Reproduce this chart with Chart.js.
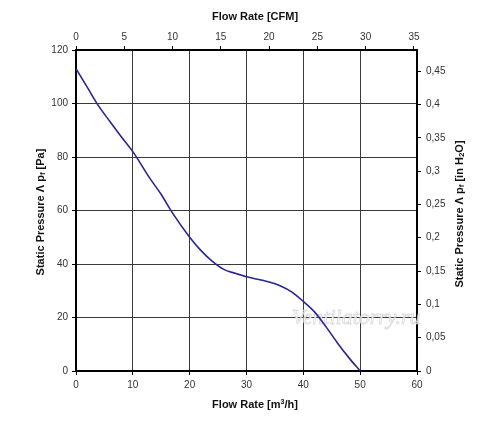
<!DOCTYPE html>
<html>
<head>
<script src="https://cdn.jsdelivr.net/npm/chart.js@4.4.0/dist/chart.umd.min.js"></script>
<style>
	html, body { margin: 0; padding: 0; background: #fff; }
	#wrapper { width: 500px; height: 437px; }
</style>
</head>
<body>
<div id="wrapper"><canvas id="fanChart" width="500" height="437"></canvas></div>
<script>
// curve: flow in m3/h, static pressure in Pa
var flowM3h    = [0, 2, 4, 6, 8, 10, 13, 15, 17, 20, 22, 24, 26, 28, 30, 33, 36, 38, 40, 42, 44, 46, 48, 50];
var pressurePa = [113, 106, 99, 93.2, 87.5, 82, 72, 66, 59, 50, 45, 41, 38, 36.5, 35.2, 33.8, 31.8, 29.5, 26, 22, 16.5, 10.5, 5, 0];

// tick labels
var flowTicks     = [0, 10, 20, 30, 40, 50, 60];
var cfmTicks      = [0, 5, 10, 15, 20, 25, 30, 35];
var paTicks       = [0, 20, 40, 60, 80, 100, 120];
var inH2OTicks    = [0, 0.05, 0.1, 0.15, 0.2, 0.25, 0.3, 0.35, 0.4, 0.45];

var M3H_PER_CFM = 1.699;
var PA_PER_INH2O = 249.089;

var FONT = '"Liberation Sans", Arial, sans-serif';

function fixedTicks(list){
	return function(scale){ scale.ticks = list.map(function(v){ return {value: v}; }); };
}

// draws a line of text made of pieces (for sub/superscripts), centred on cx,cy
function drawRich(ctx, parts, cx, cy, angle){
	ctx.save();
	ctx.translate(cx, cy);
	ctx.rotate(angle);
	ctx.fillStyle = '#111';
	ctx.textBaseline = 'middle';
	ctx.textAlign = 'left';
	var total = 0;
	parts.forEach(function(p){
		ctx.font = 'bold ' + (p.size || 11) + 'px ' + FONT;
		p.w = ctx.measureText(p.t).width;
		total += p.w;
	});
	var x = -total / 2;
	parts.forEach(function(p){
		ctx.font = 'bold ' + (p.size || 11) + 'px ' + FONT;
		ctx.fillText(p.t, x, p.dy || 0);
		x += p.w;
	});
	ctx.restore();
}

var titlesPlugin = {
	id: 'titles',
	beforeDatasetsDraw: function(chart){
		// faint watermark
		var ctx = chart.ctx;
		ctx.save();
		ctx.font = 'italic 22px "Liberation Serif", serif';
		ctx.textAlign = 'center';
		ctx.textBaseline = 'middle';
		ctx.lineWidth = 0.8;
		ctx.fillStyle = 'rgba(245,245,245,0.8)';
		ctx.strokeStyle = 'rgba(200,200,200,0.6)';
		ctx.fillText('Ventilatorry.ru', 356, 318);
		ctx.strokeText('Ventilatorry.ru', 356, 318);
		ctx.restore();
	},
	afterDraw: function(chart){
		var ctx = chart.ctx;
		drawRich(ctx, [{t: 'Flow Rate [CFM]'}], 255, 17, 0);
		drawRich(ctx, [{t: 'Flow Rate [m'}, {t: '3', size: 7, dy: -3}, {t: '/h]'}], 255, 405, 0);
		drawRich(ctx, [{t: 'Static Pressure \u039B p'}, {t: 'f', size: 8, dy: 2}, {t: ' [Pa]'}], 41, 212, -Math.PI / 2);
		drawRich(ctx, [{t: 'Static Pressure \u039B p'}, {t: 'f', size: 8, dy: 2}, {t: ' [in H'},
			{t: '2', size: 8, dy: 2}, {t: 'O]'}], 460, 214, -Math.PI / 2);
	}
};

var tickFont = {family: FONT, size: 10};
var gridStyle = {color: '#3a3a3a', lineWidth: 1, tickColor: '#000', tickLength: 4};
var borderStyle = {color: '#000', width: 2};

new Chart(document.getElementById('fanChart'), {
	type: 'line',
	data: {
		datasets: [{
			data: flowM3h.map(function(f, i){ return {x: f, y: pressurePa[i]}; }),
			borderColor: '#27278f',
			borderWidth: 1.6,
			pointRadius: 0,
			cubicInterpolationMode: 'monotone',
			fill: false,
			xAxisID: 'x',
			yAxisID: 'y'
		}]
	},
	options: {
		responsive: false,
		animation: false,
		layout: {padding: 0},
		plugins: {legend: {display: false}, tooltip: {enabled: false}},
		scales: {
			x: {
				type: 'linear', position: 'bottom', min: 0, max: 60,
				afterBuildTicks: fixedTicks(flowTicks),
				afterFit: function(s){ s.height = 66; },
				grid: gridStyle, border: borderStyle,
				ticks: {font: tickFont, color: '#333', padding: 4, maxRotation: 0}
			},
			x2: {
				type: 'linear', position: 'top', min: 0, max: 60 / M3H_PER_CFM,
				afterBuildTicks: fixedTicks(cfmTicks),
				afterFit: function(s){ s.height = 50; },
				grid: {drawOnChartArea: false, tickColor: '#000', tickLength: 4},
				border: borderStyle,
				ticks: {font: tickFont, color: '#333', padding: 3, maxRotation: 0}
			},
			y: {
				type: 'linear', position: 'left', min: 0, max: 120,
				afterBuildTicks: fixedTicks(paTicks),
				afterFit: function(s){ s.width = 76; },
				grid: gridStyle, border: borderStyle,
				ticks: {font: tickFont, color: '#333', padding: 4}
			},
			y2: {
				type: 'linear', position: 'right', min: 0, max: 120 / PA_PER_INH2O,
				afterBuildTicks: fixedTicks(inH2OTicks),
				afterFit: function(s){ s.width = 83; },
				grid: {drawOnChartArea: false, tickColor: '#000', tickLength: 4},
				border: borderStyle,
				ticks: {
					font: tickFont, color: '#333', padding: 5,
					callback: function(v){ return String(+v.toFixed(2)).replace('.', ','); }
				}
			}
		}
	},
	plugins: [titlesPlugin]
});
</script>
</body>
</html>
